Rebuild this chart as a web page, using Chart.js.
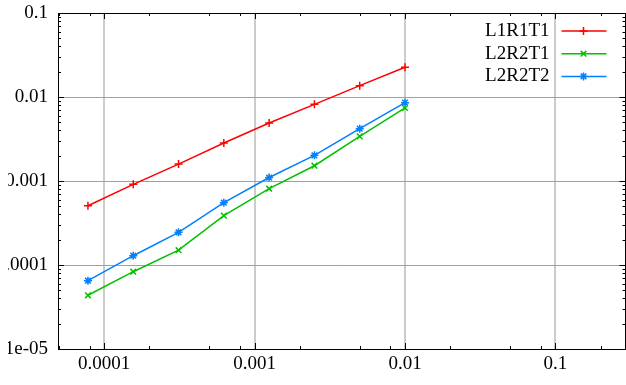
<!DOCTYPE html>
<html>
<head>
<meta charset="utf-8">
<script src="https://cdn.jsdelivr.net/npm/chart.js@4/dist/chart.umd.min.js"></script>
<style>
  html, body { margin: 0; padding: 0; background: #fff; overflow: hidden; }
  #clip { position: absolute; left: 8px; top: 0; width: 618px; height: 385px; overflow: hidden; }
  #wrap { position: absolute; left: -8px; top: 0; width: 631px; height: 385px; }
</style>
</head>
<body>
<div id="clip"><div id="wrap"><canvas id="chart"></canvas></div></div>
<script>
'use strict';

// step sizes (x) shared by all three runs
const STEPS = [0.000078125, 0.00015625, 0.0003125, 0.000625, 0.00125, 0.0025, 0.005, 0.01];

const L1R1T1 = [0.000508, 0.000912, 0.00159, 0.00283, 0.0049, 0.00818, 0.01365, 0.0226];
const L2R2T1 = [0.0000436, 0.0000832, 0.000150, 0.000387, 0.00081, 0.00152, 0.0034, 0.0074];
const L2R2T2 = [0.000065, 0.000129, 0.000245, 0.000552, 0.0011, 0.00202, 0.0042, 0.00857];

const SERIES_NAMES = ['L1R1T1', 'L2R2T1', 'L2R2T2'];

const X_TICKS = [0.0001, 0.001, 0.01, 0.1];
const X_TICK_LABELS = ['0.0001', '0.001', '0.01', '0.1'];
const Y_TICKS = [0.00001, 0.0001, 0.001, 0.01, 0.1];
const Y_TICK_LABELS = ['1e-05', '0.0001', '0.001', '0.01', '0.1'];

const X_MIN = 4.94e-5;
const X_MAX = 0.292;
const Y_MIN = 1e-5;
const Y_MAX = 0.1;

const X_MINOR_MULT = [2, 5, 8];
const Y_MINOR_MULT = [2, 3, 4, 5, 6, 7, 8, 9];

const COLORS = ['#ff0000', '#00c000', '#0080ff'];
const POINT_STYLES = ['cross', 'crossRot', 'star'];
const FONT = '"Liberation Serif", "Times New Roman", "DejaVu Serif", serif';

function minorTicks(majors, mults, lo, hi) {
  const out = [];
  const decades = [majors[0] / 10, ...majors];
  decades.forEach(d => mults.forEach(m => {
    const v = d * m;
    if (v > lo && v < hi) out.push(v);
  }));
  return out;
}

function tickSet(majors, mults, lo, hi) {
  const ticks = majors.map(v => ({ value: v, major: true }));
  minorTicks(majors, mults, lo, hi).forEach(v => ticks.push({ value: v, major: false }));
  return ticks.sort((a, b) => a.value - b.value);
}

function labelFor(majors, labels, value) {
  const i = majors.findIndex(m => Math.abs(m - value) / m < 1e-6);
  return i >= 0 ? labels[i] : '';
}

const datasets = [L1R1T1, L2R2T1, L2R2T2].map((ys, i) => ({
  label: SERIES_NAMES[i],
  data: ys.map((y, k) => ({ x: STEPS[k], y })),
  borderColor: COLORS[i],
  backgroundColor: COLORS[i],
  borderWidth: 1.5,
  pointStyle: POINT_STYLES[i],
  pointRadius: 4,
  pointBorderWidth: 1.5,
  tension: 0
}));

// frame, inward tick marks and gnuplot-style legend
const framePlugin = {
  id: 'frame',
  afterDraw(chart) {
    const { ctx, chartArea: a, scales } = chart;
    ctx.save();
    ctx.strokeStyle = '#000';
    ctx.lineWidth = 1;
    ctx.beginPath();
    scales.x.ticks.forEach(t => {
      const px = Math.round(scales.x.getPixelForValue(t.value)) + 0.5;
      const len = t.major ? 6 : 3;
      ctx.moveTo(px, a.bottom); ctx.lineTo(px, a.bottom - len);
      ctx.moveTo(px, a.top); ctx.lineTo(px, a.top + len);
    });
    scales.y.ticks.forEach(t => {
      const py = Math.round(scales.y.getPixelForValue(t.value)) + 0.5;
      const len = t.major ? 6 : 3;
      ctx.moveTo(a.left, py); ctx.lineTo(a.left + len, py);
      ctx.moveTo(a.right, py); ctx.lineTo(a.right - len, py);
    });
    ctx.stroke();
    ctx.strokeRect(Math.round(a.left) + 0.5, Math.round(a.top) + 0.5,
      Math.round(a.right - a.left) - 1, Math.round(a.bottom - a.top));

    ctx.font = '19px ' + FONT;
    ctx.textAlign = 'right';
    ctx.textBaseline = 'middle';
    chart.data.datasets.forEach((ds, i) => {
      const y = a.top + 18 + i * 22.7;
      ctx.fillStyle = '#000';
      ctx.fillText(ds.label, a.right - 76, y);
      ctx.strokeStyle = ds.borderColor;
      ctx.lineWidth = 1.5;
      ctx.beginPath();
      ctx.moveTo(a.right - 64, y); ctx.lineTo(a.right - 19, y);
      ctx.stroke();
      Chart.helpers.drawPoint(ctx, {
        pointStyle: ds.pointStyle, radius: 4, rotation: 0, borderWidth: 1.5
      }, a.right - 42, y);
    });
    ctx.restore();
  }
};

function draw() {
  new Chart(document.getElementById('chart'), {
    type: 'line',
    data: { datasets },
    options: {
      responsive: true,
      maintainAspectRatio: false,
      animation: false,
      layout: { padding: { left: 0, right: 1, top: 13, bottom: 0 } },
      plugins: { legend: { display: false }, tooltip: { enabled: false } },
      scales: {
        x: {
          type: 'logarithmic',
          min: X_MIN,
          max: X_MAX,
          afterBuildTicks: s => { s.ticks = tickSet(X_TICKS, X_MINOR_MULT, X_MIN, X_MAX); },
          afterFit: s => { s.height = 36; s.paddingLeft = 0; s.paddingRight = 0; },
          border: { display: false },
          grid: {
            drawTicks: false,
            lineWidth: 2,
            color: c => (c.tick && c.tick.major ? '#cccccc' : 'rgba(0,0,0,0)')
          },
          ticks: {
            autoSkip: false,
            maxRotation: 0,
            padding: 4,
            color: '#000',
            font: { family: FONT, size: 19 },
            callback: v => labelFor(X_TICKS, X_TICK_LABELS, v)
          }
        },
        y: {
          type: 'logarithmic',
          min: Y_MIN,
          max: Y_MAX,
          afterBuildTicks: s => { s.ticks = tickSet(Y_TICKS, Y_MINOR_MULT, Y_MIN, Y_MAX); },
          afterFit: s => { s.width = 58; s.paddingTop = 0; s.paddingBottom = 0; },
          border: { display: false },
          grid: {
            drawTicks: false,
            lineWidth: 1,
            color: c => (c.tick && c.tick.major ? '#a0a0a0' : 'rgba(0,0,0,0)')
          },
          ticks: {
            autoSkip: false,
            padding: 10,
            color: '#000',
            font: { family: FONT, size: 19 },
            callback: v => labelFor(Y_TICKS, Y_TICK_LABELS, v)
          }
        }
      }
    },
    plugins: [framePlugin]
  });
}

document.fonts.load('19px "Liberation Serif"').then(draw, draw);
</script>
</body>
</html>
